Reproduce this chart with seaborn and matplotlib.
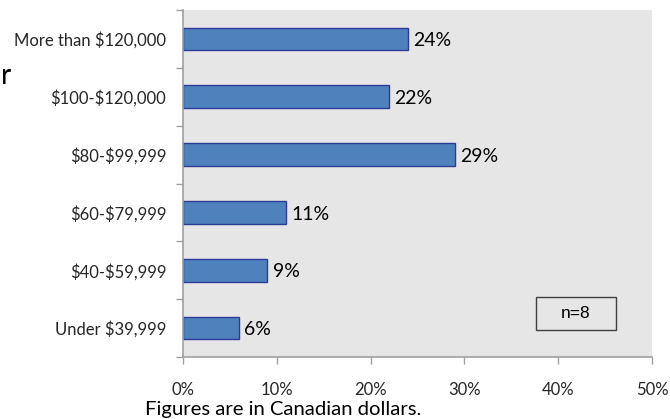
import matplotlib
matplotlib.use("Agg")
import matplotlib.pyplot as plt
from matplotlib.ticker import FixedLocator
from matplotlib.patches import Rectangle
import seaborn as sns
import pandas as pd

# Income brackets, top to bottom as drawn
categories = ["More than $120,000", "$100-$120,000", "$80-$99,999",
              "$60-$79,999", "$40-$59,999", "Under $39,999"]
shares = [24, 22, 29, 11, 9, 6]
x_ticks = [0, 10, 20, 30, 40, 50]
x_tick_labels = ["0%", "10%", "20%", "30%", "40%", "50%"]
sample_note = "n=8"
footnote = "Figures are in Canadian dollars."

df = pd.DataFrame({"bracket": categories, "share": shares})

sns.set_theme(style="white")
plt.rcParams["font.family"] = ["Lato", "DejaVu Sans"]
plt.rcParams["text.parse_math"] = False

fig = plt.figure(figsize=(6.7, 4.19), dpi=100)
ax = fig.add_axes([183 / 670, 1 - 357 / 419, (652 - 183) / 670, (357 - 10) / 419])
ax.set_facecolor("#E6E6E6")

sns.barplot(data=df, x="share", y="bracket", order=categories, orient="h",
            color="#4F81BD", saturation=1, width=0.39, edgecolor="#2E3A97",
            linewidth=1.0, ax=ax)

for i, v in enumerate(shares):
    ax.text(v + 0.55, i + 0.03, f"{v}%", va="center", ha="left", fontsize=14,
            color="black")

ax.set_xlim(0, 50)
ax.set_ylim(5.5, -0.5)
ax.set_xlabel("")
ax.set_ylabel("")

ax.set_xticks(x_ticks)
ax.set_xticklabels(x_tick_labels, fontsize=12)
ax.tick_params(axis="x", which="major", direction="out", length=5, width=1,
               color="#A0A0A0", pad=13, bottom=True)

ax.tick_params(axis="y", which="major", length=0, pad=12, labelsize=12)
ax.yaxis.set_minor_locator(FixedLocator([i - 0.5 for i in range(7)]))
ax.tick_params(axis="y", which="minor", direction="out", length=5, width=1,
               color="#A0A0A0", left=True)

for side in ("top", "right"):
    ax.spines[side].set_visible(False)
for side in ("left", "bottom"):
    ax.spines[side].set_visible(True)
    ax.spines[side].set_color("#A0A0A0")
    ax.spines[side].set_linewidth(1.2)

# Sample-size box
bx0, bx1 = (536 - 183) / 469, (616 - 183) / 469
by0, by1 = (357 - 330) / 347, (357 - 297) / 347
ax.add_patch(Rectangle((bx0, by0), bx1 - bx0, by1 - by0, transform=ax.transAxes,
                       facecolor="none", edgecolor="#404040", linewidth=1,
                       zorder=5))
ax.text((bx0 + bx1) / 2, (by0 + by1) / 2, sample_note, transform=ax.transAxes,
        ha="center", va="center", fontsize=12.5, family="Liberation Sans",
        color="black")

fig.text(145 / 670, 1 - 415 / 419, footnote, ha="left", va="baseline",
         fontsize=14.6, color="black")
# Tail of a side caption at the left edge
fig.text(1 / 670, 1 - 84 / 419, "r", ha="left", va="baseline", fontsize=20,
         color="black")

fig.savefig("out.png", dpi=100)
